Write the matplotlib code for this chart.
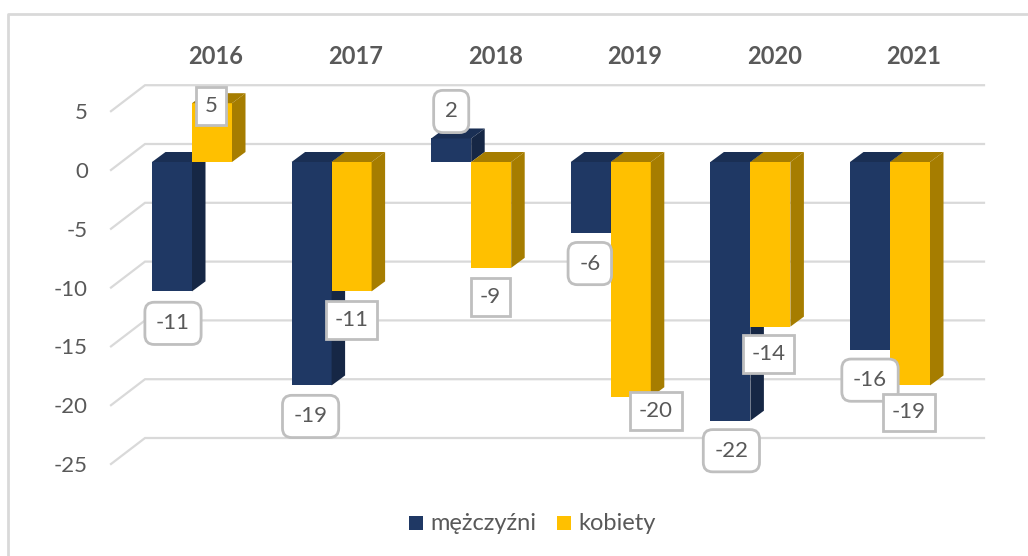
import matplotlib

matplotlib.use("Agg")
import matplotlib.pyplot as plt
from matplotlib.lines import Line2D
from matplotlib.patches import Polygon, Rectangle

plt.rcParams["font.family"] = ["Lato", "DejaVu Sans"]

YEARS = ["2016", "2017", "2018", "2019", "2020", "2021"]
MEN = [-11, -19, 2, -6, -22, -16]
WOMEN = [5, -11, -9, -20, -14, -19]
TICKS = [5, 0, -5, -10, -15, -20, -25]

WIDTH, HEIGHT = 1028, 556
PX_PER_CAT = 139.6
PX_PER_UNIT = 11.76
ZERO_X = 192
ZERO_Y = 162

BAR_W = 40 / PX_PER_CAT
DEPTH_X = 13.5 / PX_PER_CAT
DEPTH_Y = 10 / PX_PER_UNIT

NAVY = ("#1f3864", "#1a2f54", "#162745")
GOLD = ("#ffc000", "#a67d00", "#a67d00")
GRID = "#d9d9d9"
TEXT = "#595959"

# label centres as offsets from the bar's end (pixels, x right, y down)
MEN_OFFSETS = [(1, 32), (-1, 31), (0, -27), (-1, 31), (1, 30), (0, 30)]
WOMEN_OFFSETS = [(-1, 3), (0, 29), (-1, 29), (25, 14), (-2, 27), (-1, 27)]


def draw_bar(ax, x, value, colors):
    front, top, side = colors
    top_y = max(value, 0)
    low_y = min(value, 0)
    ax.bar(x, value, width=BAR_W, align="edge", color=front, zorder=3, linewidth=0)
    ax.add_patch(Polygon(
        [(x, top_y), (x + BAR_W, top_y), (x + BAR_W + DEPTH_X, top_y + DEPTH_Y), (x + DEPTH_X, top_y + DEPTH_Y)],
        closed=True, facecolor=top, edgecolor="none", zorder=3,
    ))
    ax.add_patch(Polygon(
        [(x + BAR_W, top_y), (x + BAR_W + DEPTH_X, top_y + DEPTH_Y), (x + BAR_W + DEPTH_X, low_y + DEPTH_Y), (x + BAR_W, low_y)],
        closed=True, facecolor=side, edgecolor="none", zorder=3,
    ))


def draw_label(ax, x, value, offset, boxstyle):
    ax.annotate(
        str(value),
        xy=(x + BAR_W / 2, value),
        xytext=(offset[0] * 0.72, -offset[1] * 0.72),
        textcoords="offset points",
        ha="center",
        va="center",
        fontsize=16,
        color=TEXT,
        zorder=5,
        bbox=dict(boxstyle=boxstyle, facecolor="white", edgecolor="#bfbfbf", linewidth=2),
    )


def main():
    fig = plt.figure(figsize=(WIDTH / 100, HEIGHT / 100), dpi=100)
    ax = fig.add_axes([0, 0, 1, 1])
    ax.set_xlim(-ZERO_X / PX_PER_CAT, (WIDTH - ZERO_X) / PX_PER_CAT)
    ax.set_ylim(-(HEIGHT - ZERO_Y) / PX_PER_UNIT, ZERO_Y / PX_PER_UNIT)
    ax.axis("off")

    # outer frame, only top and left are visible in the crop
    ax.add_line(Line2D([8 / WIDTH, 8 / WIDTH, 1], [0, 1 - 14 / HEIGHT, 1 - 14 / HEIGHT],
                       transform=ax.transAxes, color=GRID, linewidth=2))

    # back wall gridlines with the diagonal on the side wall
    front_x = (111 - ZERO_X) / PX_PER_CAT
    back_x = (145 - ZERO_X) / PX_PER_CAT
    end_x = (984 - ZERO_X) / PX_PER_CAT
    for tick in TICKS:
        ax.plot([front_x, back_x, end_x], [tick - 0.68, tick + 1.53, tick + 1.53],
                color=GRID, linewidth=1.6, zorder=1, solid_joinstyle="miter")
        ax.annotate(str(tick), xy=(front_x, tick - 0.68), xytext=(-23 * 0.72, -2 * 0.72), textcoords="offset points",
                    ha="right", va="center", fontsize=16, color=TEXT)

    for i, year in enumerate(YEARS):
        draw_bar(ax, i - BAR_W, MEN[i], NAVY)
        draw_bar(ax, i, WOMEN[i], GOLD)
        ax.text(i + 24 / PX_PER_CAT, (162 - 56) / PX_PER_UNIT, year, ha="center", va="center",
                fontsize=17, fontweight="bold", color=TEXT)

    for i in range(len(YEARS)):
        draw_label(ax, i - BAR_W, MEN[i], MEN_OFFSETS[i], "round,pad=0.5,rounding_size=0.42")
        draw_label(ax, i, WOMEN[i], WOMEN_OFFSETS[i], "square,pad=0.4")

    # legend
    legend_y = 523
    for left, color, name in [(409, NAVY[0], "mężczyźni"), (557, GOLD[0], "kobiety")]:
        fig.add_artist(Rectangle((left / WIDTH, 1 - (legend_y + 7) / HEIGHT), 14 / WIDTH, 14 / HEIGHT,
                                 transform=fig.transFigure, facecolor=color, edgecolor="none"))
        fig.text((left + 21) / WIDTH, 1 - legend_y / HEIGHT, name, ha="left", va="center",
                 fontsize=17, color=TEXT)

    fig.savefig("out.png", dpi=100, facecolor="white")
    plt.close(fig)


if __name__ == "__main__":
    main()
